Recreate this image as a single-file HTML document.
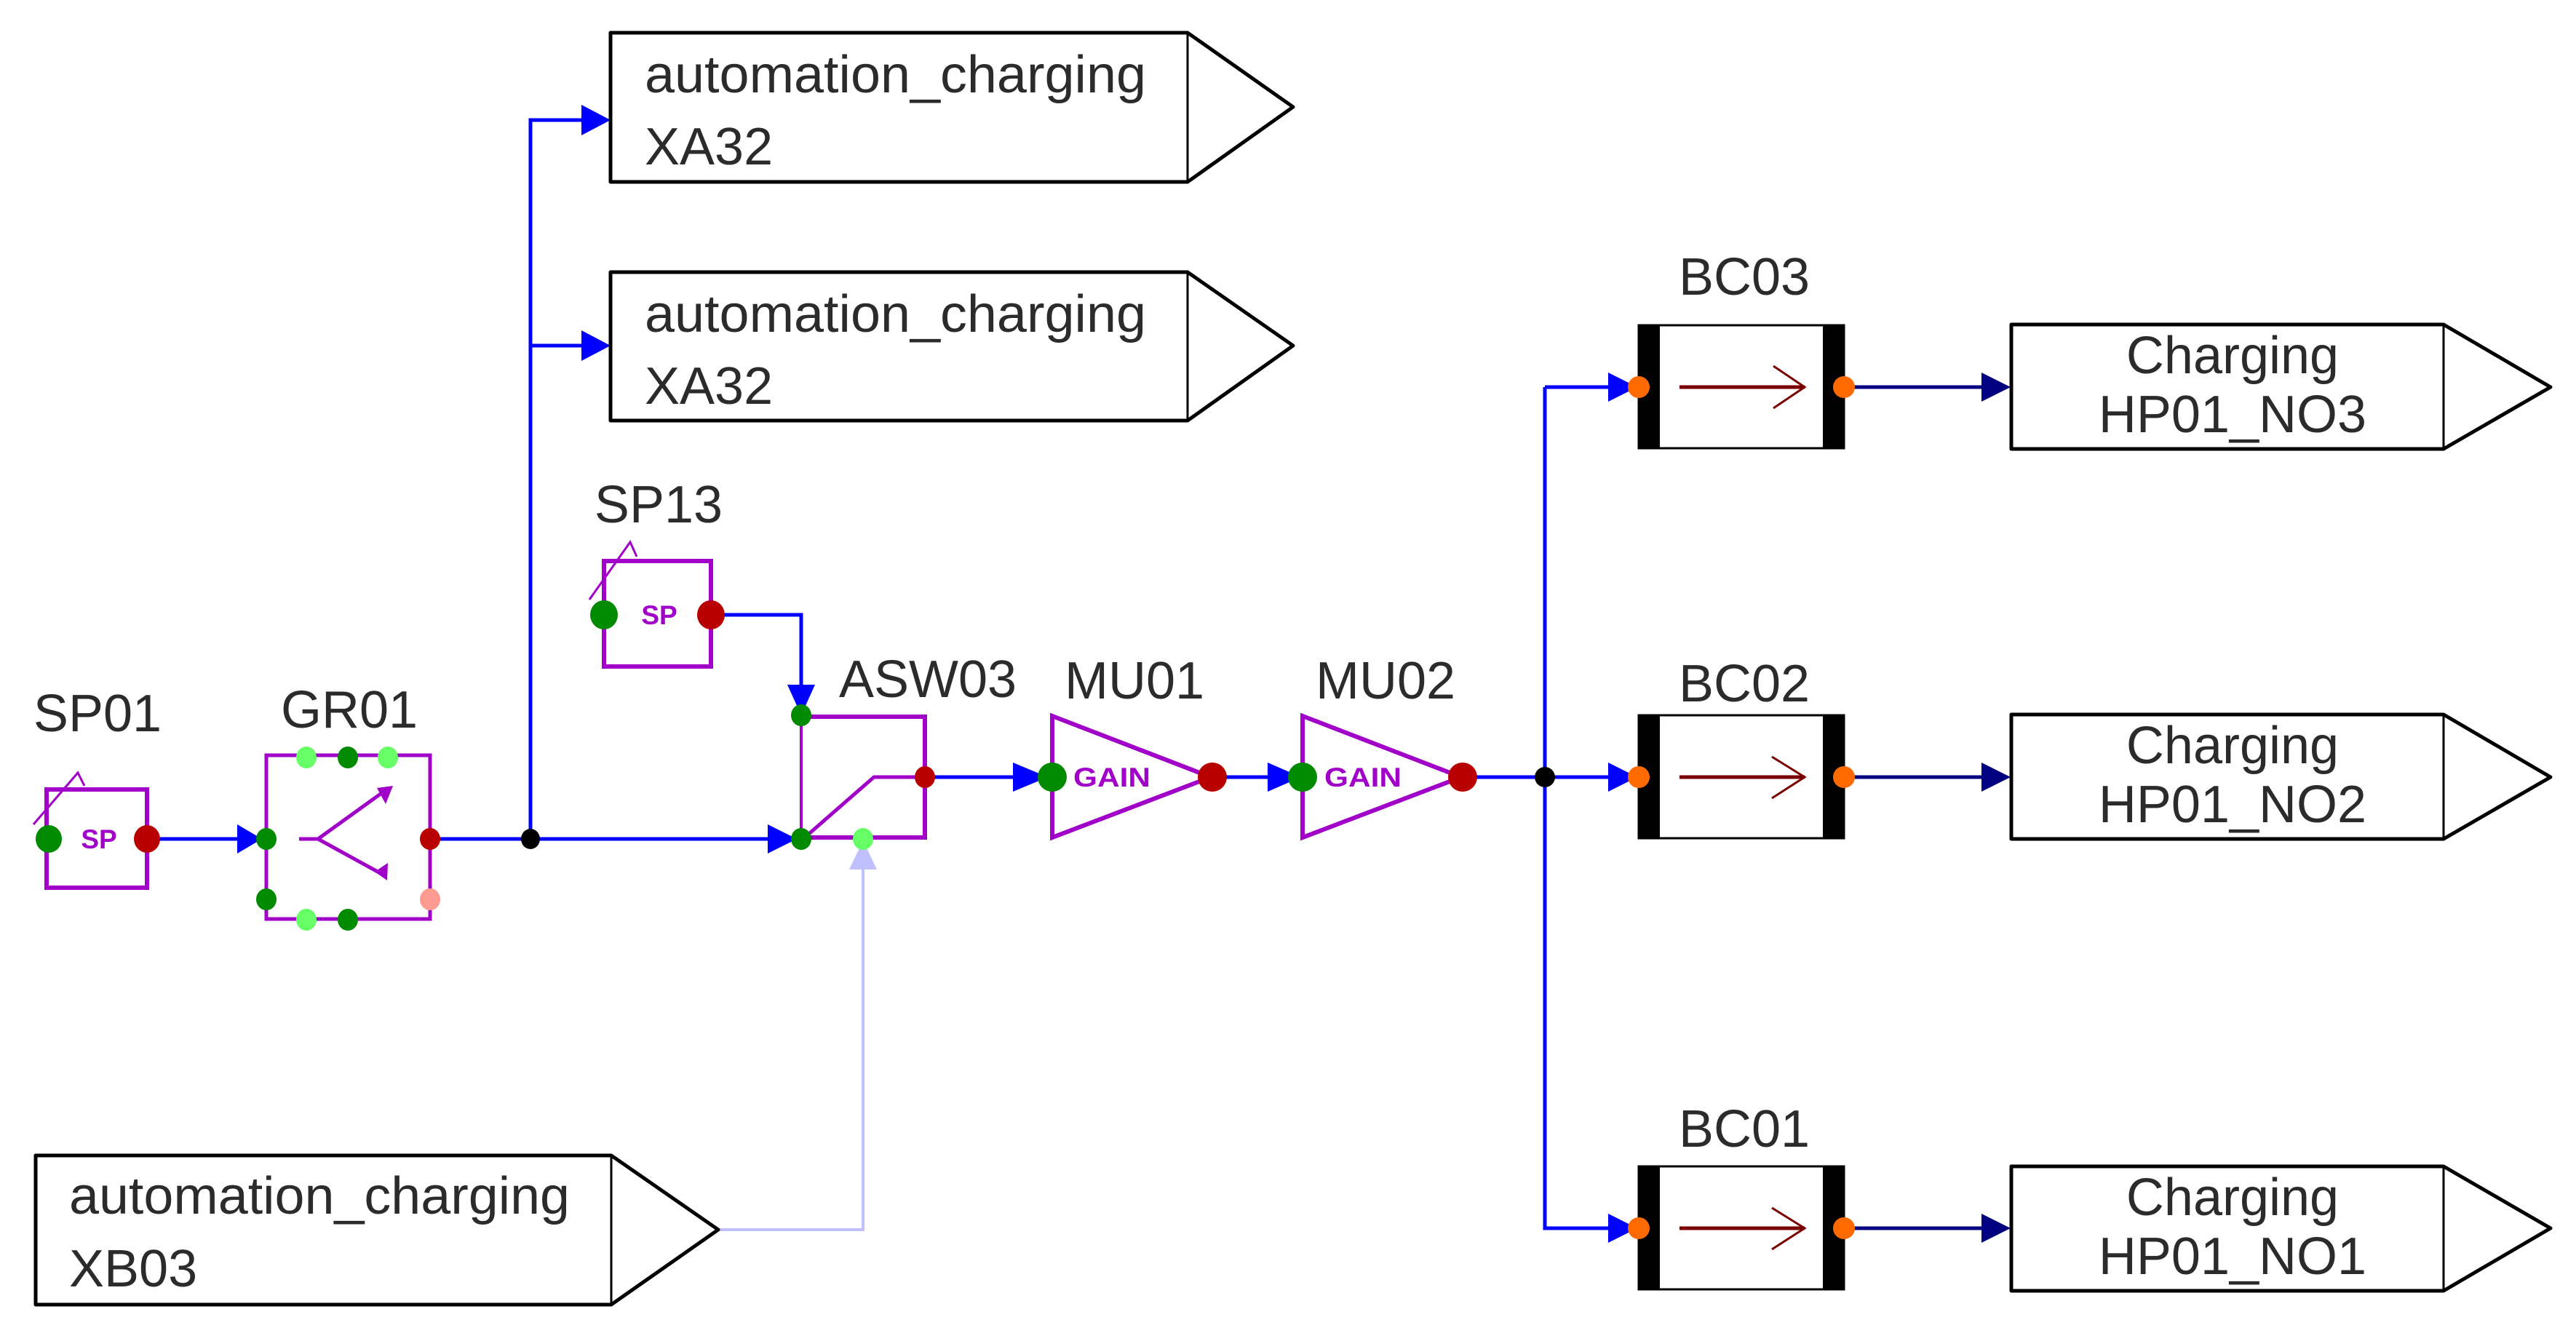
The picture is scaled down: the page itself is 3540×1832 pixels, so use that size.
<!DOCTYPE html>
<html><head><meta charset="utf-8"><style>html,body{margin:0;padding:0;background:#fff}svg{display:block}</style></head>
<body>
<svg width="3540" height="1832" viewBox="0 0 3540 1832" xmlns="http://www.w3.org/2000/svg" font-family="Liberation Sans, Arial, sans-serif">
<rect width="3540" height="1832" fill="#fff"/>
<!-- connectors -->
<g stroke="#0000ff" stroke-width="5" fill="none">
  <polyline points="204,1153 330,1153"/>
  <polyline points="591,1153 1060,1153"/>
  <polyline points="729,1153 729,165 805,165"/>
  <polyline points="729,475 805,475"/>
  <polyline points="977,845 1101,845 1101,945"/>
  <polyline points="1271,1068 1395,1068"/>
  <polyline points="1666,1068 1745,1068"/>
  <polyline points="2010,1068 2215,1068"/>
  <polyline points="2123,532 2123,1688 2215,1688"/>
  <polyline points="2123,532 2215,532"/>
</g>
<g stroke="#000080" stroke-width="5">
  <line x1="2534" y1="532" x2="2725" y2="532"/>
  <line x1="2534" y1="1068" x2="2725" y2="1068"/>
  <line x1="2534" y1="1688" x2="2725" y2="1688"/>
</g>
<polyline points="1186,1190 1186,1690 987,1690" stroke="#c0c0ff" stroke-width="4" fill="none"/>
<!-- arrowheads -->
<g fill="#0000ff">
  <polygon points="326,1133 326,1173 360,1153"/>
  <polygon points="1055,1133 1055,1173 1095,1153"/>
  <polygon points="799,144 799,186 839,165"/>
  <polygon points="799,454 799,496 839,475"/>
  <polygon points="1082,941 1120,941 1101,983"/>
  <polygon points="1392,1048 1392,1088 1440,1068"/>
  <polygon points="1742,1048 1742,1088 1788,1068"/>
  <polygon points="2210,512 2210,552 2250,532"/>
  <polygon points="2210,1048 2210,1088 2250,1068"/>
  <polygon points="2210,1668 2210,1708 2250,1688"/>
</g>
<polygon points="1167,1195 1205,1195 1186,1155" fill="#c0c0ff"/>
<g fill="#000080">
  <polygon points="2723,512 2723,552 2763,532"/>
  <polygon points="2723,1048 2723,1088 2763,1068"/>
  <polygon points="2723,1668 2723,1708 2763,1688"/>
</g>
<!-- output boxes -->
<g stroke="#000" stroke-width="5" fill="#fff" stroke-linejoin="round">
  <polygon points="839,45 1632,45 1777,147 1632,250 839,250"/>
  <polygon points="839,374 1632,374 1777,475 1632,578 839,578"/>
  <polygon points="49,1588 840,1588 987,1690 840,1793 49,1793"/>
  <polygon points="2764,446 3358,446 3505,532 3358,617 2764,617"/>
  <polygon points="2764,982 3358,982 3505,1068 3358,1153 2764,1153"/>
  <polygon points="2764,1603 3358,1603 3505,1688 3358,1774 2764,1774"/>
</g>
<g stroke="#000" stroke-width="3">
  <line x1="1632" y1="45" x2="1632" y2="250"/>
  <line x1="1632" y1="374" x2="1632" y2="578"/>
  <line x1="840" y1="1588" x2="840" y2="1793"/>
  <line x1="3358" y1="446" x2="3358" y2="617"/>
  <line x1="3358" y1="982" x2="3358" y2="1153"/>
  <line x1="3358" y1="1603" x2="3358" y2="1774"/>
</g>
<g fill="#2b2b2b" font-size="72">
  <text x="886" y="127" textLength="689" lengthAdjust="spacingAndGlyphs">automation_charging</text>
  <text x="886" y="226">XA32</text>
  <text x="886" y="456" textLength="689" lengthAdjust="spacingAndGlyphs">automation_charging</text>
  <text x="886" y="555">XA32</text>
  <text x="95" y="1668" textLength="688" lengthAdjust="spacingAndGlyphs">automation_charging</text>
  <text x="95" y="1768">XB03</text>
  <g text-anchor="middle">
    <text x="3068" y="513">Charging</text>
    <text x="3068" y="594">HP01_NO3</text>
    <text x="3068" y="1049">Charging</text>
    <text x="3068" y="1130">HP01_NO2</text>
    <text x="3068" y="1670">Charging</text>
    <text x="3068" y="1751">HP01_NO1</text>
    <text x="134" y="1005">SP01</text>
    <text x="480" y="1000">GR01</text>
    <text x="905" y="718">SP13</text>
    <text x="1275" y="958">ASW03</text>
    <text x="1559" y="960">MU01</text>
    <text x="1904" y="960">MU02</text>
    <text x="2397" y="405">BC03</text>
    <text x="2397" y="964">BC02</text>
    <text x="2397" y="1576">BC01</text>
  </g>
</g>
<!-- SP blocks -->
<g stroke="#a000c8" fill="none">
  <rect x="64" y="1085" width="138" height="135" stroke-width="6"/>
  <polyline points="46,1133 107,1062 116,1080" stroke-width="3"/>
  <rect x="830" y="771" width="147" height="145" stroke-width="6"/>
  <polyline points="810,824 866,745 875,765" stroke-width="3"/>
  <!-- GR01 -->
  <rect x="366" y="1038" width="225" height="225" stroke-width="5"/>
  <polyline points="411,1153 437,1153 530,1086" stroke-width="5"/>
  <polyline points="437,1153 528,1203" stroke-width="5"/>
  <!-- ASW03 -->
  <polyline points="1101,985 1271,985 1271,1151 1101,1151" stroke-width="6"/>
  <line x1="1101" y1="985" x2="1101" y2="1151" stroke-width="4"/>
  <polyline points="1107,1150 1201,1068 1271,1068" stroke-width="5"/>
  <!-- MU -->
  <polygon points="1446,984 1664,1068 1446,1151" stroke-width="6"/>
  <polygon points="1790,984 2008,1068 1790,1151" stroke-width="6"/>
</g>
<g fill="#a000c8">
  <polygon points="518,1083 540,1080 530,1105"/>
  <polygon points="515,1198 532,1210 533,1186"/>
</g>
<g fill="#a000c8" font-weight="bold" font-size="37">
  <text x="136" y="1166" text-anchor="middle">SP</text>
  <text x="906" y="858" text-anchor="middle">SP</text>
  <text x="1475" y="1081" textLength="106" lengthAdjust="spacingAndGlyphs">GAIN</text>
  <text x="1820" y="1081" textLength="106" lengthAdjust="spacingAndGlyphs">GAIN</text>
</g>
<!-- BC blocks -->
<g>
  <g transform="translate(0,0)">
    <rect x="2252" y="447" width="282" height="169" fill="#fff" stroke="#000" stroke-width="3"/>
    <rect x="2252" y="446" width="29" height="171" fill="#000"/>
    <rect x="2505" y="446" width="29" height="171" fill="#000"/>
    <line x1="2308" y1="532" x2="2480" y2="532" stroke="#7a0000" stroke-width="5"/>
    <polyline points="2437,503 2480,532 2437,561" stroke="#7a0000" stroke-width="3" fill="none"/>
  </g>
  <g transform="translate(0,536)">
    <rect x="2252" y="447" width="282" height="169" fill="#fff" stroke="#000" stroke-width="3"/>
    <rect x="2252" y="446" width="29" height="171" fill="#000"/>
    <rect x="2505" y="446" width="29" height="171" fill="#000"/>
    <line x1="2308" y1="532" x2="2480" y2="532" stroke="#7a0000" stroke-width="5"/>
    <polyline points="2435,504 2480,532 2435,561" stroke="#7a0000" stroke-width="3" fill="none"/>
  </g>
  <g transform="translate(0,1156)">
    <rect x="2252" y="447" width="282" height="169" fill="#fff" stroke="#000" stroke-width="3"/>
    <rect x="2252" y="446" width="29" height="171" fill="#000"/>
    <rect x="2505" y="446" width="29" height="171" fill="#000"/>
    <line x1="2308" y1="532" x2="2480" y2="532" stroke="#7a0000" stroke-width="5"/>
    <polyline points="2435,504 2480,532 2435,561" stroke="#7a0000" stroke-width="3" fill="none"/>
  </g>
</g>
<!-- pins -->
<g>
  <ellipse cx="67" cy="1153" rx="18" ry="19" fill="#008a00"/>
  <ellipse cx="202" cy="1153" rx="18" ry="19" fill="#b80000"/>
  <ellipse cx="830" cy="845" rx="19" ry="20" fill="#008a00"/>
  <ellipse cx="977" cy="845" rx="19" ry="20" fill="#b80000"/>
  <ellipse cx="366" cy="1153" rx="14" ry="15" fill="#008a00"/>
  <ellipse cx="591" cy="1153" rx="14" ry="15" fill="#b80000"/>
  <ellipse cx="421" cy="1041" rx="14" ry="15" fill="#66ff66"/>
  <ellipse cx="478" cy="1041" rx="14" ry="15" fill="#008a00"/>
  <ellipse cx="533" cy="1041" rx="14" ry="15" fill="#66ff66"/>
  <ellipse cx="421" cy="1264" rx="14" ry="15" fill="#66ff66"/>
  <ellipse cx="478" cy="1264" rx="14" ry="15" fill="#008a00"/>
  <ellipse cx="366" cy="1236" rx="14" ry="15" fill="#008a00"/>
  <ellipse cx="591" cy="1236" rx="14" ry="15" fill="#ff9a90"/>
  <ellipse cx="729" cy="1153" rx="13" ry="14" fill="#000"/>
  <ellipse cx="1101" cy="983" rx="14" ry="15" fill="#008a00"/>
  <ellipse cx="1101" cy="1153" rx="14" ry="15" fill="#008a00"/>
  <ellipse cx="1271" cy="1068" rx="14" ry="15" fill="#b80000"/>
  <ellipse cx="1186" cy="1153" rx="14" ry="15" fill="#66ff66"/>
  <ellipse cx="1446" cy="1068" rx="20" ry="20" fill="#008a00"/>
  <ellipse cx="1666" cy="1068" rx="20" ry="20" fill="#b80000"/>
  <ellipse cx="1790" cy="1068" rx="20" ry="20" fill="#008a00"/>
  <ellipse cx="2010" cy="1068" rx="20" ry="20" fill="#b80000"/>
  <ellipse cx="2123" cy="1068" rx="14" ry="14" fill="#000"/>
  <g fill="#ff6a00">
    <ellipse cx="2252" cy="532" rx="15" ry="15"/>
    <ellipse cx="2534" cy="532" rx="15" ry="15"/>
    <ellipse cx="2252" cy="1068" rx="15" ry="15"/>
    <ellipse cx="2534" cy="1068" rx="15" ry="15"/>
    <ellipse cx="2252" cy="1688" rx="15" ry="15"/>
    <ellipse cx="2534" cy="1688" rx="15" ry="15"/>
  </g>
</g>
</svg>
</body></html>
